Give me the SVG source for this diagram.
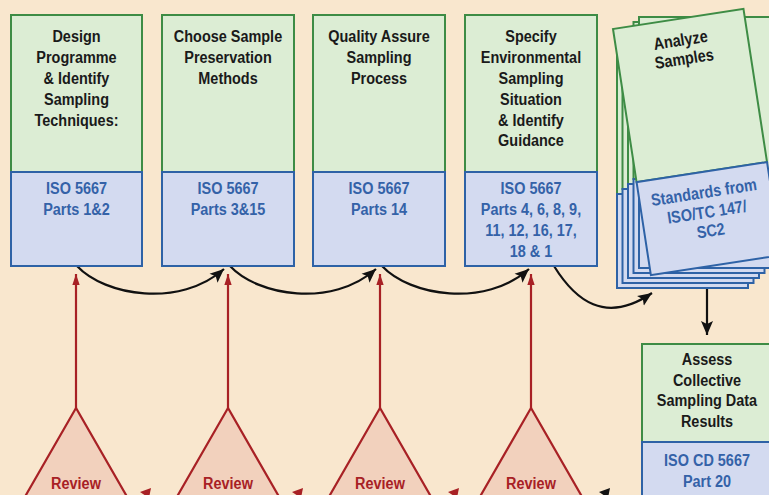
<svg xmlns="http://www.w3.org/2000/svg" width="769" height="495" viewBox="0 0 769 495">
<defs>
<style>
.g{fill:#DCEDD4;stroke:#3E8C45;stroke-width:2}
.b{fill:#D3DAF0;stroke:#2E62A6;stroke-width:2}
.t{font-family:"Liberation Sans",Arial,sans-serif;font-weight:bold;font-size:17px;text-anchor:middle}
.k{fill:#1A1A1A}
.u{fill:#3462A8}
.r{fill:#A82125}
.con{fill:none;stroke:#111;stroke-width:2.2}
.red{stroke:#A82125;stroke-width:2.2;fill:none}
.tri{fill:#F2D1BD;stroke:#A82125;stroke-width:2.2}
</style>
<marker id="ak" markerUnits="userSpaceOnUse" markerWidth="16" markerHeight="14" refX="14" refY="6" orient="auto" viewBox="0 0 16 12">
<path d="M0,0 L14,6 L0,12 L3,6 Z" fill="#111"/>
</marker>
<marker id="ar" markerUnits="userSpaceOnUse" markerWidth="12" markerHeight="16" refX="15" refY="5" orient="auto" viewBox="0 0 16 10">
<path d="M0,0 L15,5 L0,10 Z" fill="#A82125"/>
</marker>
</defs>
<rect width="769" height="495" fill="#F9E7CE"/>

<g id="connectors">
<path class="con" d="M77,266 C105,296 180,308 224,269" marker-end="url(#ak)"/>
<path class="con" d="M230,266 C258,296 332,308 376,269" marker-end="url(#ak)"/>
<path class="con" d="M382,266 C410,296 485,308 529,269" marker-end="url(#ak)"/>
<path class="con" d="M554,266 C575,300 605,325 652,293" marker-end="url(#ak)"/>
<path class="con" d="M707,289 L707,335" marker-end="url(#ak)"/>
<path class="red" d="M76,408 L76,274" marker-end="url(#ar)"/>
<path class="red" d="M228,408 L228,274" marker-end="url(#ar)"/>
<path class="red" d="M380,408 L380,274" marker-end="url(#ar)"/>
<path class="red" d="M531,408 L531,274" marker-end="url(#ar)"/>
<polygon points="140,492 151,488 149,498" fill="#A82125"/>
<polygon points="292,492 303,488 301,498" fill="#A82125"/>
<polygon points="448,492 459,488 457,498" fill="#A82125"/>
<polygon points="599,492 610,488 608,498" fill="#111"/>
</g>

<g id="box1">
<rect class="g" x="11" y="15" width="131" height="157"/>
<rect class="b" x="11" y="172" width="131" height="94"/>
<g transform="translate(76.5 0) scale(0.85 1)">
<text class="t k" x="0" y="42">Design</text>
<text class="t k" x="0" y="63">Programme</text>
<text class="t k" x="0" y="84">&amp; Identify</text>
<text class="t k" x="0" y="105">Sampling</text>
<text class="t k" x="0" y="126">Techniques:</text>
<text class="t u" x="0" y="194">ISO 5667</text>
<text class="t u" x="0" y="215">Parts 1&amp;2</text>
</g>
</g>

<g id="box2">
<rect class="g" x="162" y="15" width="132" height="157"/>
<rect class="b" x="162" y="172" width="132" height="94"/>
<g transform="translate(228 0) scale(0.85 1)">
<text class="t k" x="0" y="42">Choose Sample</text>
<text class="t k" x="0" y="63">Preservation</text>
<text class="t k" x="0" y="84">Methods</text>
<text class="t u" x="0" y="194">ISO 5667</text>
<text class="t u" x="0" y="215">Parts 3&amp;15</text>
</g>
</g>

<g id="box3">
<rect class="g" x="313" y="15" width="132" height="157"/>
<rect class="b" x="313" y="172" width="132" height="94"/>
<g transform="translate(379 0) scale(0.85 1)">
<text class="t k" x="0" y="42">Quality Assure</text>
<text class="t k" x="0" y="63">Sampling</text>
<text class="t k" x="0" y="84">Process</text>
<text class="t u" x="0" y="194">ISO 5667</text>
<text class="t u" x="0" y="215">Parts 14</text>
</g>
</g>

<g id="box4">
<rect class="g" x="465" y="15" width="132" height="157"/>
<rect class="b" x="465" y="172" width="132" height="94"/>
<g transform="translate(531 0) scale(0.85 1)">
<text class="t k" x="0" y="42">Specify</text>
<text class="t k" x="0" y="63">Environmental</text>
<text class="t k" x="0" y="84">Sampling</text>
<text class="t k" x="0" y="105">Situation</text>
<text class="t k" x="0" y="126">&amp; Identify</text>
<text class="t k" x="0" y="146">Guidance</text>
<text class="t u" x="0" y="194">ISO 5667</text>
<text class="t u" x="0" y="215">Parts 4, 6, 8, 9,</text>
<text class="t u" x="0" y="236">11, 12, 16, 17,</text>
<text class="t u" x="0" y="257">18 &amp; 1</text>
</g>
</g>

<g id="analyze">
<rect class="g" x="617" y="37" width="131" height="157"/>
<rect class="b" x="617" y="194" width="131" height="94"/>
<rect class="g" x="622.5" y="32" width="131" height="157"/>
<rect class="b" x="622.5" y="189" width="131" height="94"/>
<rect class="g" x="628" y="27" width="131" height="157"/>
<rect class="b" x="628" y="184" width="131" height="94"/>
<rect class="g" x="633.5" y="22" width="131" height="157"/>
<rect class="b" x="633.5" y="179" width="131" height="94"/>
<rect class="g" x="639" y="17" width="131" height="157"/>
<rect class="b" x="639" y="174" width="131" height="94"/>
<g transform="translate(613,29) rotate(-8.75)">
<rect class="g" x="0" y="0" width="132" height="155"/>
<rect class="b" x="0" y="155" width="132" height="94"/>
<g transform="translate(65 0) scale(0.85 1)">
<text class="t k" x="0" y="27">Analyze</text>
<text class="t k" x="1" y="46">Samples</text>
<text class="t u" x="0" y="181">Standards from</text>
<text class="t u" x="0" y="201">ISO/TC 147/</text>
<text class="t u" x="1" y="220">SC2</text>
</g>
</g>
</g>

<g id="assess">
<rect class="g" x="642" y="344" width="132" height="98"/>
<rect class="b" x="642" y="442" width="132" height="70"/>
<g transform="translate(707 0) scale(0.85 1)">
<text class="t k" x="0" y="365">Assess</text>
<text class="t k" x="0" y="386">Collective</text>
<text class="t k" x="0" y="406">Sampling Data</text>
<text class="t k" x="0" y="427">Results</text>
<text class="t u" x="0" y="466">ISO CD 5667</text>
<text class="t u" x="0" y="487">Part 20</text>
</g>
</g>

<g id="review1"><polygon class="tri" points="76,408 11,521 141,521"/><text class="t r" transform="translate(76 0) scale(0.85 1)" x="0" y="489">Review</text></g>
<g id="review2"><polygon class="tri" points="228,408 163,521 293,521"/><text class="t r" transform="translate(228 0) scale(0.85 1)" x="0" y="489">Review</text></g>
<g id="review3"><polygon class="tri" points="380,408 315,521 445,521"/><text class="t r" transform="translate(380 0) scale(0.85 1)" x="0" y="489">Review</text></g>
<g id="review4"><polygon class="tri" points="531,408 466,521 596,521"/><text class="t r" transform="translate(531 0) scale(0.85 1)" x="0" y="489">Review</text></g>
</svg>
